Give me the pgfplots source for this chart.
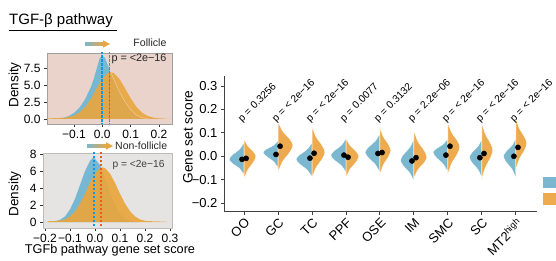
\documentclass[border=0pt]{standalone}
\usepackage{fontspec}
\setmainfont{Liberation Sans}
\usepackage{pgfplots}
\pgfplotsset{compat=1.18}
\definecolor{vblue}{RGB}{123,184,207}
\definecolor{vorange}{RGB}{238,170,78}
\definecolor{dblue}{RGB}{118,184,210}
\definecolor{dorange}{RGB}{234,166,62}
\definecolor{lblue}{RGB}{20,150,225}
\definecolor{lorange}{RGB}{235,90,35}
\definecolor{bgpink}{RGB}{233,211,203}
\definecolor{bggray}{RGB}{230,227,227}
\definecolor{framegray}{RGB}{160,160,160}
\newcommand{\fs}[1]{\fontsize{#1}{#1}\selectfont}
\begin{document}
\begin{tikzpicture}
% title
\node[anchor=base west, inner sep=0, font=\fs{15}] at (9pt,236pt) {TGF-β pathway};
\draw[line width=0.9pt] (9pt,231pt) -- (117pt,231pt);
% axis labels
\node[rotate=90, font=\fs{13.5}] at (15pt,176pt) {Density};
\node[rotate=90, font=\fs{13.5}] at (15pt,67pt) {Density};
\node[font=\fs{12.7}] at (110pt,11pt) {TGFb pathway gene set score};
\node[rotate=90, font=\fs{13.7}] at (188pt,124pt) {Gene set score};
% arrows
\shade[left color=vblue, right color=dorange] (85pt,215.5pt) rectangle (104pt,218.5pt);
\fill[dorange] (103pt,213.3pt) -- (110pt,217pt) -- (103pt,220.7pt) -- cycle;
\shade[left color=vblue, right color=dorange] (87pt,113.5pt) rectangle (107pt,116.5pt);
\fill[dorange] (106pt,111.3pt) -- (113pt,115pt) -- (106pt,118.7pt) -- cycle;
\node[anchor=east, font=\fs{10.6}, text=black!85] at (170pt,218pt) {Follicle};
\node[anchor=west, font=\fs{10.5}, text=black!85, inner sep=1pt] at (114pt,115pt) {Non-follicle};
% legend keys (cropped at the right edge)
\fill[vblue] (543pt,73pt) rectangle (556pt,84pt);
\fill[vorange] (543pt,56pt) rectangle (556pt,68pt);

% ---------- top density panel ----------
\begin{axis}[at={(47pt,137pt)}, anchor=south west, scale only axis, width=125pt, height=71pt,
  xmin=-0.195, xmax=0.246, ymin=-0.75, ymax=9.88,
  axis background/.style={fill=bgpink},
  axis line style={framegray, line width=0.8pt},
  xtick={-0.1,0,0.1,0.2}, xticklabels={−0.1,0.0,0.1,0.2},
  ytick={0,2.5,5,7.5}, yticklabels={0.0,2.5,5.0,7.5},
  tick align=outside, xtick pos=bottom, ytick pos=left,
  major tick length=3pt, tick style={black!80, line width=0.8pt},
  ticklabel style={font=\fs{12}}]
\addplot[fill=dblue, draw=none] coordinates {(-0.195,0) (-0.16,0.05) (-0.14,0.15) (-0.12,0.4) (-0.10,0.9) (-0.08,1.7) (-0.06,3.0) (-0.04,4.8) (-0.03,6.0) (-0.02,7.5) (-0.01,9.0) (0.0,9.6) (0.01,9.2) (0.02,8.2) (0.03,7.0) (0.04,6.0) (0.06,4.1) (0.08,2.6) (0.10,1.4) (0.12,0.6) (0.14,0.2) (0.16,0.05) (0.20,0)} -- cycle;
\addplot[fill=dorange, fill opacity=0.9, draw=none] coordinates {(-0.195,0) (-0.19,0.1) (-0.16,0.12) (-0.14,0.17) (-0.12,0.27) (-0.10,0.5) (-0.08,1.0) (-0.06,1.83) (-0.04,3.0) (-0.02,4.6) (0.0,6.03) (0.02,6.89) (0.03,7.0) (0.04,6.89) (0.06,6.03) (0.08,4.63) (0.10,3.1) (0.12,1.83) (0.14,0.95) (0.16,0.45) (0.18,0.2) (0.20,0.1) (0.22,0.05) (0.24,0)} -- cycle;
\addplot[draw=white, opacity=0.5, line width=0.4pt] coordinates {(0.0,9.6) (0.01,9.2) (0.02,8.2) (0.03,7.0) (0.04,6.0) (0.06,4.1) (0.08,2.6) (0.10,1.4) (0.12,0.6) (0.14,0.2) (0.16,0.05)};
\addplot[draw=lblue, line width=1.6pt, dash pattern=on 2.5pt off 1.5pt] coordinates {(-0.002,-1) (-0.002,11)};
\addplot[draw=lorange, line width=1.6pt, dash pattern=on 2.5pt off 1.5pt] coordinates {(0.025,-1) (0.025,11)};
\end{axis}
\node[anchor=east, font=\fs{10.8}, text=black!85] at (170pt,202pt) {p = <2e−16};

% ---------- bottom density panel ----------
\begin{axis}[at={(43pt,33pt)}, anchor=south west, scale only axis, width=129pt, height=75pt,
  xmin=-0.208, xmax=0.308, ymin=-0.71, ymax=8.21,
  axis background/.style={fill=bggray},
  axis line style={framegray!70, line width=0.8pt},
  xtick={-0.2,-0.1,0,0.1,0.2,0.3}, xticklabels={−0.2,−0.1,0.0,0.1,0.2,0.3},
  ytick={0,2,4,6,8}, yticklabels={0,2,4,6,8},
  tick align=outside, xtick pos=bottom, ytick pos=left,
  major tick length=3pt, tick style={black!80, line width=0.8pt},
  ticklabel style={font=\fs{12}}]
\addplot[fill=dblue, draw=none] coordinates {(-0.208,0) (-0.18,0.03) (-0.16,0.09) (-0.14,0.26) (-0.12,0.66) (-0.10,1.5) (-0.08,2.75) (-0.06,4.4) (-0.04,6.06) (-0.02,7.29) (-0.005,7.7) (0.02,6.77) (0.04,5.23) (0.06,3.48) (0.08,2.0) (0.10,0.99) (0.12,0.42) (0.14,0.15) (0.16,0.05) (0.18,0)} -- cycle;
\addplot[fill=dorange, fill opacity=0.92, draw=none] coordinates {(-0.19,0) (-0.19,0.08) (-0.18,0.1) (-0.16,0.12) (-0.14,0.18) (-0.12,0.31) (-0.10,0.67) (-0.08,1.28) (-0.06,2.19) (-0.04,3.37) (-0.02,4.65) (0.0,5.76) (0.02,6.41) (0.03,6.5) (0.04,6.41) (0.06,5.76) (0.08,4.65) (0.10,3.37) (0.12,2.19) (0.14,1.28) (0.16,0.67) (0.18,0.31) (0.20,0.15) (0.22,0.1) (0.24,0.08) (0.26,0.06) (0.28,0.04) (0.29,0)} -- cycle;
\addplot[draw=lblue, line width=1.6pt, dash pattern=on 2.5pt off 1.5pt] coordinates {(-0.005,-1) (-0.005,9)};
\addplot[draw=lorange, line width=1.6pt, dash pattern=on 2.5pt off 1.5pt] coordinates {(0.025,-1) (0.025,9)};
\end{axis}
\node[anchor=east, font=\fs{10.2}, text=black!75] at (168pt,96pt) {p = <2e−16};

% ---------- violin panel ----------
\begin{axis}[at={(224pt,49pt)}, anchor=south west, scale only axis, width=313pt, height=136pt,
  xmin=-0.59, xmax=8.62, ymin=-0.238, ymax=0.343,
  axis x line*=bottom, axis y line*=left,
  axis line style={-, black!75, line width=1pt},
  xtick={0,1,2,3,4,5,6,7,8},
  xticklabels={OO,GC,TC,PPF,OSE,IM,SMC,SC,MT2\textsuperscript{high}},
  xticklabel style={rotate=45, anchor=north east, font=\fs{13}, inner sep=1.5pt},
  ytick={-0.2,-0.1,0,0.1,0.2,0.3}, yticklabels={−0.2,−0.1,0.0,0.1,0.2,0.3},
  yticklabel style={font=\fs{13}},
  tick align=outside, major tick length=3pt, tick style={black!75, line width=1pt},
  clip=false]
\pgfplotsset{vb/.style={fill=vblue, draw=white, line width=0.5pt, smooth}, vo/.style={fill=vorange, draw=white, line width=0.5pt, smooth}}
\addplot[vb] coordinates {(0,-0.08) (-0.132,-0.0532) (-0.352,-0.0298) (-0.44,-0.013) (-0.352,0.0053) (-0.132,0.0308) (0,0.06)} -- cycle;
\addplot[vo] coordinates {(0,-0.10) (0.105,-0.06) (0.28,-0.025) (0.35,0) (0.28,0.0193) (0.105,0.0462) (0,0.077)} -- cycle;
\addplot[vb] coordinates {(1,-0.05) (0.868,-0.0232) (0.648,0.0003) (0.56,0.017) (0.648,0.0298) (0.868,0.0476) (1,0.068)} -- cycle;
\addplot[vo] coordinates {(1,-0.07) (1.132,-0.0232) (1.352,0.0178) (1.44,0.047) (1.352,0.0728) (1.132,0.1088) (1,0.15)} -- cycle;
\addplot[vb] coordinates {(2,-0.09) (1.859,-0.0592) (1.624,-0.0323) (1.53,-0.013) (1.624,0.0053) (1.859,0.0308) (2,0.06)} -- cycle;
\addplot[vo] coordinates {(2,-0.095) (2.114,-0.0502) (2.304,-0.011) (2.38,0.017) (2.304,0.0453) (2.114,0.0848) (2,0.13)} -- cycle;
\addplot[vb] coordinates {(3,-0.07) (2.865,-0.0404) (2.64,-0.0145) (2.55,0.004) (2.64,0.0223) (2.865,0.0478) (3,0.077)} -- cycle;
\addplot[vo] coordinates {(3,-0.095) (3.114,-0.057) (3.304,-0.0238) (3.38,0) (3.304,0.02) (3.114,0.048) (3,0.08)} -- cycle;
\addplot[vb] coordinates {(4,-0.073) (3.868,-0.037) (3.648,-0.0055) (3.56,0.017) (3.648,0.0378) (3.868,0.0668) (4,0.10)} -- cycle;
\addplot[vo] coordinates {(4,-0.08) (4.096,-0.038) (4.256,-0.0013) (4.32,0.025) (4.256,0.05) (4.096,0.085) (4,0.125)} -- cycle;
\addplot[vb] coordinates {(5,-0.11) (4.88,-0.0728) (4.68,-0.0403) (4.60,-0.017) (4.68,0.0065) (4.88,0.0394) (5,0.077)} -- cycle;
\addplot[vo] coordinates {(5,-0.095) (5.114,-0.0586) (5.304,-0.0273) (5.38,-0.004) (5.304,0.0245) (5.114,0.0644) (5,0.11)} -- cycle;
\addplot[vb] coordinates {(6,-0.07) (5.868,-0.0352) (5.648,-0.0048) (5.56,0.017) (5.648,0.032) (5.868,0.053) (6,0.077)} -- cycle;
\addplot[vo] coordinates {(6,-0.08) (6.105,-0.032) (6.28,0.01) (6.35,0.04) (6.28,0.0663) (6.105,0.103) (6,0.145)} -- cycle;
\addplot[vb] coordinates {(7,-0.095) (6.889,-0.0586) (6.704,-0.0273) (6.63,-0.004) (6.704,0.0163) (6.889,0.0446) (7,0.077)} -- cycle;
\addplot[vo] coordinates {(7,-0.10) (7.096,-0.05) (7.256,-0.0063) (7.32,0.025) (7.256,0.055) (7.096,0.097) (7,0.145)} -- cycle;
\addplot[vb] coordinates {(8,-0.095) (7.889,-0.057) (7.704,-0.0238) (7.63,0) (7.704,0.02) (7.889,0.048) (8,0.08)} -- cycle;
\addplot[vo] coordinates {(8,-0.06) (8.096,-0.014) (8.256,0.0263) (8.32,0.055) (8.256,0.0825) (8.096,0.121) (8,0.165)} -- cycle;
\addplot[only marks, mark=*, mark size=2.6pt, black] coordinates {(-0.06,-0.013) (0.06,-0.009) (0.94,0.008) (1.06,0.043) (1.94,-0.008) (2.06,0.013) (2.94,0.005) (3.06,-0.004) (3.94,0.012) (4.06,0.016) (4.94,-0.02) (5.06,-0.006) (5.94,0.005) (6.06,0.043) (6.94,-0.006) (7.06,0.012) (7.94,0.0) (8.06,0.038)};
\foreach \i/\t in {0/{p = 0.3256},1/{p = < 2e−16},2/{p = < 2e−16},3/{p = 0.0077},4/{p = 0.3132},5/{p = 2.2e−06},6/{p = < 2e−16},7/{p = < 2e−16},8/{p = < 2e−16}}{
  \edef\temp{\noexpand\node[rotate=45, anchor=base west, inner sep=0, font=\noexpand\fs{10.3}] at (axis cs:\i-0.06,0.145) {\unexpanded\expandafter{\t}};}
  \temp
}
\end{axis}
\pgfresetboundingbox
\path[use as bounding box] (0pt,0pt) rectangle (556pt,261pt);
\end{tikzpicture}
\end{document}
